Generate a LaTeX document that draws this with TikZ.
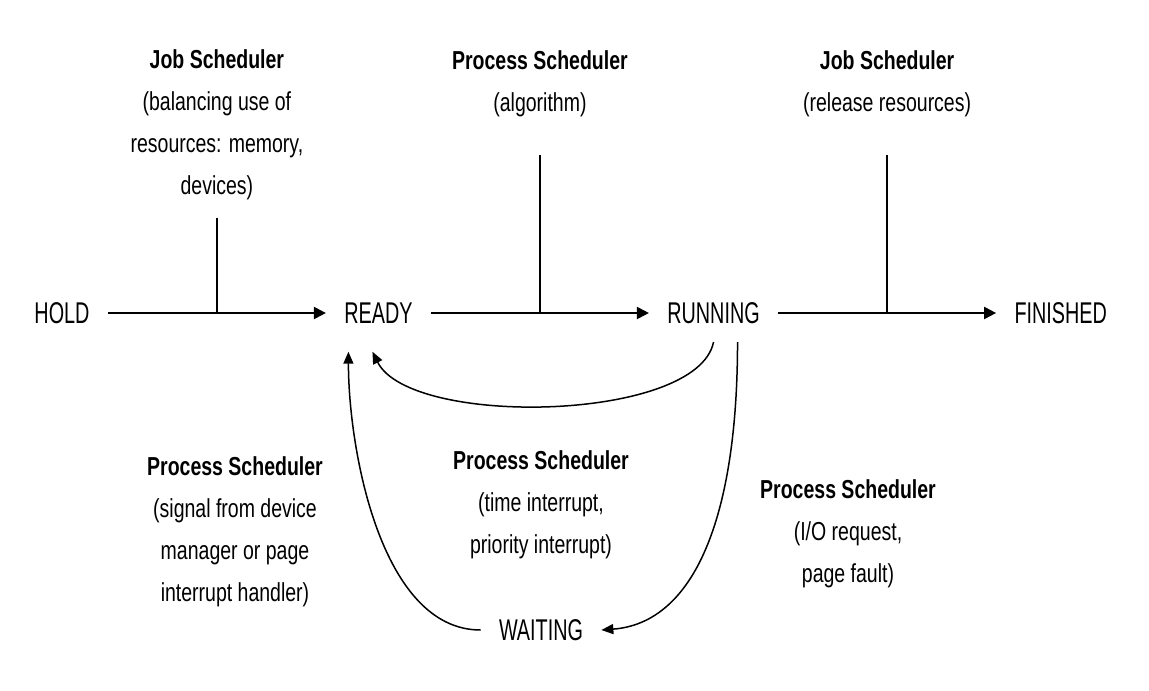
\documentclass[tikz,border=0pt]{standalone}
\usepackage{fontspec}
\setmainfont[FakeStretch=0.75]{Liberation Sans}
\newfontfamily\statefamily[FakeStretch=0.66]{Liberation Sans}
\usetikzlibrary{arrows.meta,positioning}
\tikzset{
  state/.style={inner sep=9pt, font=\statefamily\fontsize{15}{18}\selectfont},
  scheduler/.style={align=center, inner sep=0pt, font=\fontsize{13}{21}\selectfont},
  wire/.style={-{Triangle[length=6pt, width=6pt]}, line width=1pt},
  tapwire/.style={line width=1pt},
  loopwire/.style={-{Triangle[length=6pt, width=5pt]}, line width=0.75pt}
}
\newcommand{\schedname}[1]{\textbf{#1}}

\begin{document}
\begin{tikzpicture}[x=0.5pt, y=-0.5pt, node distance=109pt]
  \useasboundingbox (0,0) rectangle (1149,690);
  \node[state] (hold) at (62,313) {HOLD};
  \node[state, right=of hold] (ready) {READY};
  \node[state, right=of ready] (running) {RUNNING};
  \node[state, right=of running] (finished) {FINISHED};
  \node[state] (waiting) at (541,630) {WAITING};

  \draw[wire] (hold) -- coordinate (holdtap) (ready);
  \draw[wire] (ready) -- coordinate (readytap) (running);
  \draw[wire] (running) -- coordinate (runningtap) (finished);

  \coordinate[above=47.5pt of holdtap] (holdtop);
  \coordinate[above=79pt of readytap] (readytop);
  \coordinate[above=79pt of runningtap] (runningtop);
  \draw[tapwire] (holdtop) -- (holdtap);
  \draw[tapwire] (readytop) -- (readytap);
  \draw[tapwire] (runningtop) -- (runningtap);

  \node[scheduler, above=9pt of holdtop] (admit) {\schedname{Job Scheduler}\\(balancing use of\\resources: memory,\\devices)};
  \node[scheduler, above=19pt of readytop] (dispatch) {\schedname{Process Scheduler}\\(algorithm)};
  \node[scheduler, above=19pt of runningtop] (release) {\schedname{Job Scheduler}\\(release resources)};

  \draw[loopwire] (running.south) .. controls +(-16,80) and +(38,76) .. ([xshift=-3pt, yshift=-5pt]ready.south);
  \draw[loopwire] ([xshift=12pt]running.south) .. controls +(0,175) and +(93,-7) .. (waiting.east);
  \draw[loopwire] (waiting.west) .. controls +(-100,0) and +(0,97) .. ([xshift=-15pt, yshift=-5pt]ready.south);

  \node[scheduler] (wakeup) at (235,532) {\schedname{Process Scheduler}\\(signal from device\\manager or page\\interrupt handler)};
  \node[scheduler] (preempt) at (541,505) {\schedname{Process Scheduler}\\(time interrupt,\\priority interrupt)};
  \node[scheduler] (block) at (848,534) {\schedname{Process Scheduler}\\(I/O request,\\page fault)};
\end{tikzpicture}
\end{document}
